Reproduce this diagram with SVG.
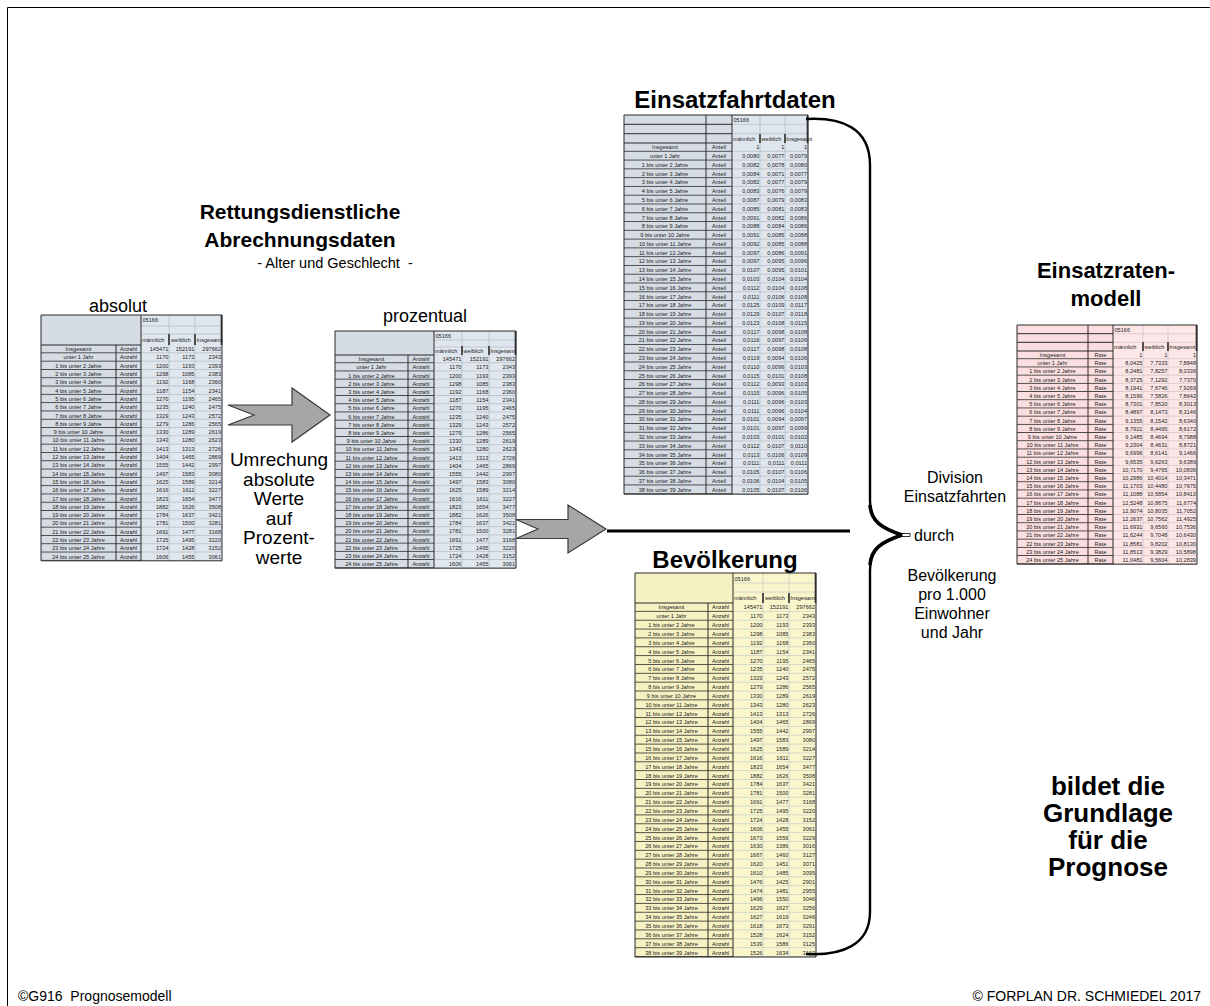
<svg xmlns="http://www.w3.org/2000/svg" width="1210" height="1006" viewBox="0 0 1210 1006">
<style>
text{font-family:"Liberation Sans",Arial,sans-serif;fill:#000}
.lb{font-size:5.6px;text-anchor:middle;fill:#222}
.nm{font-size:5.6px;text-anchor:end;fill:#222}
.hd{font-size:5.6px;fill:#222}
.ti{font-size:24px;font-weight:bold;text-anchor:middle}
.t2{font-size:21px;font-weight:bold;text-anchor:middle}
.t3{font-size:22px;font-weight:bold;text-anchor:middle}
.sb{font-size:14.5px;text-anchor:middle}
.cap{font-size:18px;text-anchor:middle}
.ex{font-size:19px;text-anchor:middle}
.dv{font-size:16px;text-anchor:middle}
.big{font-size:26px;font-weight:bold;text-anchor:middle}
.ft{font-size:14px}
.dk{stroke:#2b2b2b;stroke-width:1;fill:none}
.lt{stroke:#a9b3be;stroke-width:0.6;fill:none}
.bar{stroke:#2b2b2b;stroke-width:1.6;fill:none}
.arr{fill:#a6a6a6;stroke:#3a3a3a;stroke-width:1.2}
</style>
<defs>
<pattern id="dA" patternUnits="userSpaceOnUse" y="345" width="8" height="8.3"><rect y="7.5" width="8" height="0.8" fill="#2b2b2b"/></pattern>
<pattern id="lA" patternUnits="userSpaceOnUse" y="345" width="8" height="8.3"><rect y="7.7" width="8" height="0.6" fill="#a9b3be"/></pattern>
<pattern id="dP" patternUnits="userSpaceOnUse" y="355" width="8" height="8.2"><rect y="7.4" width="8" height="0.8" fill="#2b2b2b"/></pattern>
<pattern id="lP" patternUnits="userSpaceOnUse" y="355" width="8" height="8.2"><rect y="7.6" width="8" height="0.6" fill="#a9b3be"/></pattern>
<pattern id="dE" patternUnits="userSpaceOnUse" y="143" width="8" height="8.78"><rect y="7.98" width="8" height="0.8" fill="#2b2b2b"/></pattern>
<pattern id="lE" patternUnits="userSpaceOnUse" y="143" width="8" height="8.78"><rect y="8.18" width="8" height="0.6" fill="#a9b3be"/></pattern>
<pattern id="dB" patternUnits="userSpaceOnUse" y="603" width="8" height="8.85"><rect y="8.05" width="8" height="0.8" fill="#2b2b2b"/></pattern>
<pattern id="lB" patternUnits="userSpaceOnUse" y="603" width="8" height="8.85"><rect y="8.25" width="8" height="0.6" fill="#bcc3c9"/></pattern>
<pattern id="dR" patternUnits="userSpaceOnUse" y="351" width="8" height="8.2"><rect y="7.4" width="8" height="0.8" fill="#2b2b2b"/></pattern>
<pattern id="lR" patternUnits="userSpaceOnUse" y="351" width="8" height="8.2"><rect y="7.6" width="8" height="0.6" fill="#c9bcc4"/></pattern>
</defs>
<rect width="1210" height="1006" fill="#fff"/>
<path d="M7.5,1006V7.5H1210" fill="none" stroke="#000" stroke-width="1"/>

<g id="title-einsatzfahrtdaten"><text class="ti" x="735" y="108">Einsatzfahrtdaten</text></g>
<g id="title-rettungsdienst">
<text class="t2" x="300" y="219">Rettungsdienstliche</text>
<text class="t2" x="300" y="247">Abrechnungsdaten</text>
<text class="sb" x="335" y="268" xml:space="preserve">- Alter und Geschlecht  -</text>
</g>
<g id="label-absolut"><text class="cap" x="118" y="312">absolut</text></g>
<g id="label-prozentual"><text class="cap" x="425" y="322">prozentual</text></g>
<g id="title-bevoelkerung"><text class="ti" x="725" y="568">Bevölkerung</text></g>
<g id="title-einsatzraten"><text class="t3" x="1106" y="278">Einsatzraten-</text><text class="t3" x="1106" y="306">modell</text></g>

<g id="tab-absolut">
<rect x="41" y="315" width="181" height="245.8" fill="#e0e6ed"/>
<rect x="41" y="315" width="100" height="245.8" fill="#d5dce4"/>
<rect x="141" y="345" width="81" height="215.8" fill="url(#lA)"/>
<rect x="41" y="345" width="100" height="215.8" fill="url(#dA)"/>
<path class="lt" d="M169,315V560.8M195,315V560.8M141,326H222M141,334H222"/>
<path class="dk" d="M41,315H222V560.8H41ZM116,345V560.8M141,315V560.8M41,345H141"/>
<path class="bar" d="M169,334V345M195,334V345M221.5,315V345"/>
<text class="hd" x="142.5" y="322">05166</text>
<text class="hd" x="142" y="342">männlich</text>
<text class="hd" x="171" y="342">weiblich</text>
<text class="hd" x="196.5" y="342">Insgesamt</text>
<text class="lb" y="351.1"><tspan x="78.5">Insgesamt</tspan><tspan x="78.5" dy="8.3">unter 1 Jahr</tspan><tspan x="78.5" dy="8.3">1 bis unter 2 Jahre</tspan><tspan x="78.5" dy="8.3">2 bis unter 3 Jahre</tspan><tspan x="78.5" dy="8.3">3 bis unter 4 Jahre</tspan><tspan x="78.5" dy="8.3">4 bis unter 5 Jahre</tspan><tspan x="78.5" dy="8.3">5 bis unter 6 Jahre</tspan><tspan x="78.5" dy="8.3">6 bis unter 7 Jahre</tspan><tspan x="78.5" dy="8.3">7 bis unter 8 Jahre</tspan><tspan x="78.5" dy="8.3">8 bis unter 9 Jahre</tspan><tspan x="78.5" dy="8.3">9 bis unter 10 Jahre</tspan><tspan x="78.5" dy="8.3">10 bis unter 11 Jahre</tspan><tspan x="78.5" dy="8.3">11 bis unter 12 Jahre</tspan><tspan x="78.5" dy="8.3">12 bis unter 13 Jahre</tspan><tspan x="78.5" dy="8.3">13 bis unter 14 Jahre</tspan><tspan x="78.5" dy="8.3">14 bis unter 15 Jahre</tspan><tspan x="78.5" dy="8.3">15 bis unter 16 Jahre</tspan><tspan x="78.5" dy="8.3">16 bis unter 17 Jahre</tspan><tspan x="78.5" dy="8.3">17 bis unter 18 Jahre</tspan><tspan x="78.5" dy="8.3">18 bis unter 19 Jahre</tspan><tspan x="78.5" dy="8.3">19 bis unter 20 Jahre</tspan><tspan x="78.5" dy="8.3">20 bis unter 21 Jahre</tspan><tspan x="78.5" dy="8.3">21 bis unter 22 Jahre</tspan><tspan x="78.5" dy="8.3">22 bis unter 23 Jahre</tspan><tspan x="78.5" dy="8.3">23 bis unter 24 Jahre</tspan><tspan x="78.5" dy="8.3">24 bis unter 25 Jahre</tspan></text>
<text class="lb" y="351.1"><tspan x="128.5">Anzahl</tspan><tspan x="128.5" dy="8.3">Anzahl</tspan><tspan x="128.5" dy="8.3">Anzahl</tspan><tspan x="128.5" dy="8.3">Anzahl</tspan><tspan x="128.5" dy="8.3">Anzahl</tspan><tspan x="128.5" dy="8.3">Anzahl</tspan><tspan x="128.5" dy="8.3">Anzahl</tspan><tspan x="128.5" dy="8.3">Anzahl</tspan><tspan x="128.5" dy="8.3">Anzahl</tspan><tspan x="128.5" dy="8.3">Anzahl</tspan><tspan x="128.5" dy="8.3">Anzahl</tspan><tspan x="128.5" dy="8.3">Anzahl</tspan><tspan x="128.5" dy="8.3">Anzahl</tspan><tspan x="128.5" dy="8.3">Anzahl</tspan><tspan x="128.5" dy="8.3">Anzahl</tspan><tspan x="128.5" dy="8.3">Anzahl</tspan><tspan x="128.5" dy="8.3">Anzahl</tspan><tspan x="128.5" dy="8.3">Anzahl</tspan><tspan x="128.5" dy="8.3">Anzahl</tspan><tspan x="128.5" dy="8.3">Anzahl</tspan><tspan x="128.5" dy="8.3">Anzahl</tspan><tspan x="128.5" dy="8.3">Anzahl</tspan><tspan x="128.5" dy="8.3">Anzahl</tspan><tspan x="128.5" dy="8.3">Anzahl</tspan><tspan x="128.5" dy="8.3">Anzahl</tspan><tspan x="128.5" dy="8.3">Anzahl</tspan></text>
<text class="nm" y="351.1"><tspan x="168.4">145471</tspan><tspan x="168.4" dy="8.3">1170</tspan><tspan x="168.4" dy="8.3">1200</tspan><tspan x="168.4" dy="8.3">1298</tspan><tspan x="168.4" dy="8.3">1192</tspan><tspan x="168.4" dy="8.3">1187</tspan><tspan x="168.4" dy="8.3">1270</tspan><tspan x="168.4" dy="8.3">1235</tspan><tspan x="168.4" dy="8.3">1329</tspan><tspan x="168.4" dy="8.3">1279</tspan><tspan x="168.4" dy="8.3">1330</tspan><tspan x="168.4" dy="8.3">1343</tspan><tspan x="168.4" dy="8.3">1413</tspan><tspan x="168.4" dy="8.3">1404</tspan><tspan x="168.4" dy="8.3">1555</tspan><tspan x="168.4" dy="8.3">1497</tspan><tspan x="168.4" dy="8.3">1625</tspan><tspan x="168.4" dy="8.3">1616</tspan><tspan x="168.4" dy="8.3">1823</tspan><tspan x="168.4" dy="8.3">1882</tspan><tspan x="168.4" dy="8.3">1784</tspan><tspan x="168.4" dy="8.3">1781</tspan><tspan x="168.4" dy="8.3">1691</tspan><tspan x="168.4" dy="8.3">1725</tspan><tspan x="168.4" dy="8.3">1724</tspan><tspan x="168.4" dy="8.3">1606</tspan></text>
<text class="nm" y="351.1"><tspan x="194.4">152191</tspan><tspan x="194.4" dy="8.3">1173</tspan><tspan x="194.4" dy="8.3">1193</tspan><tspan x="194.4" dy="8.3">1085</tspan><tspan x="194.4" dy="8.3">1168</tspan><tspan x="194.4" dy="8.3">1154</tspan><tspan x="194.4" dy="8.3">1195</tspan><tspan x="194.4" dy="8.3">1240</tspan><tspan x="194.4" dy="8.3">1243</tspan><tspan x="194.4" dy="8.3">1286</tspan><tspan x="194.4" dy="8.3">1289</tspan><tspan x="194.4" dy="8.3">1280</tspan><tspan x="194.4" dy="8.3">1313</tspan><tspan x="194.4" dy="8.3">1465</tspan><tspan x="194.4" dy="8.3">1442</tspan><tspan x="194.4" dy="8.3">1583</tspan><tspan x="194.4" dy="8.3">1589</tspan><tspan x="194.4" dy="8.3">1611</tspan><tspan x="194.4" dy="8.3">1654</tspan><tspan x="194.4" dy="8.3">1626</tspan><tspan x="194.4" dy="8.3">1637</tspan><tspan x="194.4" dy="8.3">1500</tspan><tspan x="194.4" dy="8.3">1477</tspan><tspan x="194.4" dy="8.3">1495</tspan><tspan x="194.4" dy="8.3">1428</tspan><tspan x="194.4" dy="8.3">1455</tspan></text>
<text class="nm" y="351.1"><tspan x="221">297662</tspan><tspan x="221" dy="8.3">2343</tspan><tspan x="221" dy="8.3">2393</tspan><tspan x="221" dy="8.3">2383</tspan><tspan x="221" dy="8.3">2360</tspan><tspan x="221" dy="8.3">2341</tspan><tspan x="221" dy="8.3">2465</tspan><tspan x="221" dy="8.3">2475</tspan><tspan x="221" dy="8.3">2572</tspan><tspan x="221" dy="8.3">2565</tspan><tspan x="221" dy="8.3">2619</tspan><tspan x="221" dy="8.3">2623</tspan><tspan x="221" dy="8.3">2726</tspan><tspan x="221" dy="8.3">2869</tspan><tspan x="221" dy="8.3">2997</tspan><tspan x="221" dy="8.3">3080</tspan><tspan x="221" dy="8.3">3214</tspan><tspan x="221" dy="8.3">3227</tspan><tspan x="221" dy="8.3">3477</tspan><tspan x="221" dy="8.3">3508</tspan><tspan x="221" dy="8.3">3421</tspan><tspan x="221" dy="8.3">3281</tspan><tspan x="221" dy="8.3">3168</tspan><tspan x="221" dy="8.3">3220</tspan><tspan x="221" dy="8.3">3152</tspan><tspan x="221" dy="8.3">3061</tspan></text>
</g>

<g id="tab-prozentual">
<rect x="335" y="331" width="181" height="237.2" fill="#e0e6ed"/>
<rect x="335" y="331" width="99" height="237.2" fill="#d5dce4"/>
<rect x="434" y="355" width="82" height="213.2" fill="url(#lP)"/>
<rect x="335" y="355" width="99" height="213.2" fill="url(#dP)"/>
<path class="lt" d="M462,331V568.2M489,331V568.2M434,340H516M434,347H516"/>
<path class="dk" d="M335,331H516V568.2H335ZM408,355V568.2M434,331V568.2M335,355H434"/>
<path class="bar" d="M462,346V355M489,346V355M515.5,331V355"/>
<text class="hd" x="435.5" y="337.5">05166</text>
<text class="hd" x="435" y="352.5">männlich</text>
<text class="hd" x="463.5" y="352.5">weiblich</text>
<text class="hd" x="490.3" y="352.5">Insgesamt</text>
<text class="lb" y="361.1"><tspan x="371.5">Insgesamt</tspan><tspan x="371.5" dy="8.2">unter 1 Jahr</tspan><tspan x="371.5" dy="8.2">1 bis unter 2 Jahre</tspan><tspan x="371.5" dy="8.2">2 bis unter 3 Jahre</tspan><tspan x="371.5" dy="8.2">3 bis unter 4 Jahre</tspan><tspan x="371.5" dy="8.2">4 bis unter 5 Jahre</tspan><tspan x="371.5" dy="8.2">5 bis unter 6 Jahre</tspan><tspan x="371.5" dy="8.2">6 bis unter 7 Jahre</tspan><tspan x="371.5" dy="8.2">7 bis unter 8 Jahre</tspan><tspan x="371.5" dy="8.2">8 bis unter 9 Jahre</tspan><tspan x="371.5" dy="8.2">9 bis unter 10 Jahre</tspan><tspan x="371.5" dy="8.2">10 bis unter 11 Jahre</tspan><tspan x="371.5" dy="8.2">11 bis unter 12 Jahre</tspan><tspan x="371.5" dy="8.2">12 bis unter 13 Jahre</tspan><tspan x="371.5" dy="8.2">13 bis unter 14 Jahre</tspan><tspan x="371.5" dy="8.2">14 bis unter 15 Jahre</tspan><tspan x="371.5" dy="8.2">15 bis unter 16 Jahre</tspan><tspan x="371.5" dy="8.2">16 bis unter 17 Jahre</tspan><tspan x="371.5" dy="8.2">17 bis unter 18 Jahre</tspan><tspan x="371.5" dy="8.2">18 bis unter 19 Jahre</tspan><tspan x="371.5" dy="8.2">19 bis unter 20 Jahre</tspan><tspan x="371.5" dy="8.2">20 bis unter 21 Jahre</tspan><tspan x="371.5" dy="8.2">21 bis unter 22 Jahre</tspan><tspan x="371.5" dy="8.2">22 bis unter 23 Jahre</tspan><tspan x="371.5" dy="8.2">23 bis unter 24 Jahre</tspan><tspan x="371.5" dy="8.2">24 bis unter 25 Jahre</tspan></text>
<text class="lb" y="361.1"><tspan x="421">Anzahl</tspan><tspan x="421" dy="8.2">Anzahl</tspan><tspan x="421" dy="8.2">Anzahl</tspan><tspan x="421" dy="8.2">Anzahl</tspan><tspan x="421" dy="8.2">Anzahl</tspan><tspan x="421" dy="8.2">Anzahl</tspan><tspan x="421" dy="8.2">Anzahl</tspan><tspan x="421" dy="8.2">Anzahl</tspan><tspan x="421" dy="8.2">Anzahl</tspan><tspan x="421" dy="8.2">Anzahl</tspan><tspan x="421" dy="8.2">Anzahl</tspan><tspan x="421" dy="8.2">Anzahl</tspan><tspan x="421" dy="8.2">Anzahl</tspan><tspan x="421" dy="8.2">Anzahl</tspan><tspan x="421" dy="8.2">Anzahl</tspan><tspan x="421" dy="8.2">Anzahl</tspan><tspan x="421" dy="8.2">Anzahl</tspan><tspan x="421" dy="8.2">Anzahl</tspan><tspan x="421" dy="8.2">Anzahl</tspan><tspan x="421" dy="8.2">Anzahl</tspan><tspan x="421" dy="8.2">Anzahl</tspan><tspan x="421" dy="8.2">Anzahl</tspan><tspan x="421" dy="8.2">Anzahl</tspan><tspan x="421" dy="8.2">Anzahl</tspan><tspan x="421" dy="8.2">Anzahl</tspan><tspan x="421" dy="8.2">Anzahl</tspan></text>
<text class="nm" y="361.1"><tspan x="461.4">145471</tspan><tspan x="461.4" dy="8.2">1170</tspan><tspan x="461.4" dy="8.2">1200</tspan><tspan x="461.4" dy="8.2">1298</tspan><tspan x="461.4" dy="8.2">1192</tspan><tspan x="461.4" dy="8.2">1187</tspan><tspan x="461.4" dy="8.2">1270</tspan><tspan x="461.4" dy="8.2">1235</tspan><tspan x="461.4" dy="8.2">1329</tspan><tspan x="461.4" dy="8.2">1279</tspan><tspan x="461.4" dy="8.2">1330</tspan><tspan x="461.4" dy="8.2">1343</tspan><tspan x="461.4" dy="8.2">1413</tspan><tspan x="461.4" dy="8.2">1404</tspan><tspan x="461.4" dy="8.2">1555</tspan><tspan x="461.4" dy="8.2">1497</tspan><tspan x="461.4" dy="8.2">1625</tspan><tspan x="461.4" dy="8.2">1616</tspan><tspan x="461.4" dy="8.2">1823</tspan><tspan x="461.4" dy="8.2">1882</tspan><tspan x="461.4" dy="8.2">1784</tspan><tspan x="461.4" dy="8.2">1781</tspan><tspan x="461.4" dy="8.2">1691</tspan><tspan x="461.4" dy="8.2">1725</tspan><tspan x="461.4" dy="8.2">1724</tspan><tspan x="461.4" dy="8.2">1606</tspan></text>
<text class="nm" y="361.1"><tspan x="488.4">152191</tspan><tspan x="488.4" dy="8.2">1173</tspan><tspan x="488.4" dy="8.2">1193</tspan><tspan x="488.4" dy="8.2">1085</tspan><tspan x="488.4" dy="8.2">1168</tspan><tspan x="488.4" dy="8.2">1154</tspan><tspan x="488.4" dy="8.2">1195</tspan><tspan x="488.4" dy="8.2">1240</tspan><tspan x="488.4" dy="8.2">1243</tspan><tspan x="488.4" dy="8.2">1286</tspan><tspan x="488.4" dy="8.2">1289</tspan><tspan x="488.4" dy="8.2">1280</tspan><tspan x="488.4" dy="8.2">1313</tspan><tspan x="488.4" dy="8.2">1465</tspan><tspan x="488.4" dy="8.2">1442</tspan><tspan x="488.4" dy="8.2">1583</tspan><tspan x="488.4" dy="8.2">1589</tspan><tspan x="488.4" dy="8.2">1611</tspan><tspan x="488.4" dy="8.2">1654</tspan><tspan x="488.4" dy="8.2">1626</tspan><tspan x="488.4" dy="8.2">1637</tspan><tspan x="488.4" dy="8.2">1500</tspan><tspan x="488.4" dy="8.2">1477</tspan><tspan x="488.4" dy="8.2">1495</tspan><tspan x="488.4" dy="8.2">1428</tspan><tspan x="488.4" dy="8.2">1455</tspan></text>
<text class="nm" y="361.1"><tspan x="515">297662</tspan><tspan x="515" dy="8.2">2343</tspan><tspan x="515" dy="8.2">2393</tspan><tspan x="515" dy="8.2">2383</tspan><tspan x="515" dy="8.2">2360</tspan><tspan x="515" dy="8.2">2341</tspan><tspan x="515" dy="8.2">2465</tspan><tspan x="515" dy="8.2">2475</tspan><tspan x="515" dy="8.2">2572</tspan><tspan x="515" dy="8.2">2565</tspan><tspan x="515" dy="8.2">2619</tspan><tspan x="515" dy="8.2">2623</tspan><tspan x="515" dy="8.2">2726</tspan><tspan x="515" dy="8.2">2869</tspan><tspan x="515" dy="8.2">2997</tspan><tspan x="515" dy="8.2">3080</tspan><tspan x="515" dy="8.2">3214</tspan><tspan x="515" dy="8.2">3227</tspan><tspan x="515" dy="8.2">3477</tspan><tspan x="515" dy="8.2">3508</tspan><tspan x="515" dy="8.2">3421</tspan><tspan x="515" dy="8.2">3281</tspan><tspan x="515" dy="8.2">3168</tspan><tspan x="515" dy="8.2">3220</tspan><tspan x="515" dy="8.2">3152</tspan><tspan x="515" dy="8.2">3061</tspan></text>
</g>

<g id="tab-einsatzfahrtdaten">
<rect x="624" y="115" width="184" height="379.2" fill="#dfe5ec"/>
<rect x="624" y="115" width="108" height="379.2" fill="#d5dce4"/>
<rect x="732" y="143" width="76" height="351.2" fill="url(#lE)"/>
<rect x="624" y="143" width="108" height="351.2" fill="url(#dE)"/>
<path class="lt" d="M760,115V494.2M785,115V494.2M732,124.3H808M732,133.7H808"/>
<path class="dk" d="M624,115H808V494.2H624ZM706,115V494.2M732,115V494.2M624,124.3H732M624,133.7H732M624,143H732"/>
<path class="bar" d="M760,134V143M785,134V143M807.5,115V143"/>
<text class="hd" x="733.5" y="122">05166</text>
<text class="hd" x="733" y="140.5">männlich</text>
<text class="hd" x="761.5" y="140.5">weiblich</text>
<text class="hd" x="786.3" y="140.5">Insgesamt</text>
<text class="lb" y="149.3"><tspan x="665">Insgesamt</tspan><tspan x="665" dy="8.78">unter 1 Jahr</tspan><tspan x="665" dy="8.78">1 bis unter 2 Jahre</tspan><tspan x="665" dy="8.78">2 bis unter 3 Jahre</tspan><tspan x="665" dy="8.78">3 bis unter 4 Jahre</tspan><tspan x="665" dy="8.78">4 bis unter 5 Jahre</tspan><tspan x="665" dy="8.78">5 bis unter 6 Jahre</tspan><tspan x="665" dy="8.78">6 bis unter 7 Jahre</tspan><tspan x="665" dy="8.78">7 bis unter 8 Jahre</tspan><tspan x="665" dy="8.78">8 bis unter 9 Jahre</tspan><tspan x="665" dy="8.78">9 bis unter 10 Jahre</tspan><tspan x="665" dy="8.78">10 bis unter 11 Jahre</tspan><tspan x="665" dy="8.78">11 bis unter 12 Jahre</tspan><tspan x="665" dy="8.78">12 bis unter 13 Jahre</tspan><tspan x="665" dy="8.78">13 bis unter 14 Jahre</tspan><tspan x="665" dy="8.78">14 bis unter 15 Jahre</tspan><tspan x="665" dy="8.78">15 bis unter 16 Jahre</tspan><tspan x="665" dy="8.78">16 bis unter 17 Jahre</tspan><tspan x="665" dy="8.78">17 bis unter 18 Jahre</tspan><tspan x="665" dy="8.78">18 bis unter 19 Jahre</tspan><tspan x="665" dy="8.78">19 bis unter 20 Jahre</tspan><tspan x="665" dy="8.78">20 bis unter 21 Jahre</tspan><tspan x="665" dy="8.78">21 bis unter 22 Jahre</tspan><tspan x="665" dy="8.78">22 bis unter 23 Jahre</tspan><tspan x="665" dy="8.78">23 bis unter 24 Jahre</tspan><tspan x="665" dy="8.78">24 bis unter 25 Jahre</tspan><tspan x="665" dy="8.78">25 bis unter 26 Jahre</tspan><tspan x="665" dy="8.78">26 bis unter 27 Jahre</tspan><tspan x="665" dy="8.78">27 bis unter 28 Jahre</tspan><tspan x="665" dy="8.78">28 bis unter 29 Jahre</tspan><tspan x="665" dy="8.78">29 bis unter 30 Jahre</tspan><tspan x="665" dy="8.78">30 bis unter 31 Jahre</tspan><tspan x="665" dy="8.78">31 bis unter 32 Jahre</tspan><tspan x="665" dy="8.78">32 bis unter 33 Jahre</tspan><tspan x="665" dy="8.78">33 bis unter 34 Jahre</tspan><tspan x="665" dy="8.78">34 bis unter 35 Jahre</tspan><tspan x="665" dy="8.78">35 bis unter 36 Jahre</tspan><tspan x="665" dy="8.78">36 bis unter 37 Jahre</tspan><tspan x="665" dy="8.78">37 bis unter 38 Jahre</tspan><tspan x="665" dy="8.78">38 bis unter 39 Jahre</tspan></text>
<text class="lb" y="149.3"><tspan x="719">Anteil</tspan><tspan x="719" dy="8.78">Anteil</tspan><tspan x="719" dy="8.78">Anteil</tspan><tspan x="719" dy="8.78">Anteil</tspan><tspan x="719" dy="8.78">Anteil</tspan><tspan x="719" dy="8.78">Anteil</tspan><tspan x="719" dy="8.78">Anteil</tspan><tspan x="719" dy="8.78">Anteil</tspan><tspan x="719" dy="8.78">Anteil</tspan><tspan x="719" dy="8.78">Anteil</tspan><tspan x="719" dy="8.78">Anteil</tspan><tspan x="719" dy="8.78">Anteil</tspan><tspan x="719" dy="8.78">Anteil</tspan><tspan x="719" dy="8.78">Anteil</tspan><tspan x="719" dy="8.78">Anteil</tspan><tspan x="719" dy="8.78">Anteil</tspan><tspan x="719" dy="8.78">Anteil</tspan><tspan x="719" dy="8.78">Anteil</tspan><tspan x="719" dy="8.78">Anteil</tspan><tspan x="719" dy="8.78">Anteil</tspan><tspan x="719" dy="8.78">Anteil</tspan><tspan x="719" dy="8.78">Anteil</tspan><tspan x="719" dy="8.78">Anteil</tspan><tspan x="719" dy="8.78">Anteil</tspan><tspan x="719" dy="8.78">Anteil</tspan><tspan x="719" dy="8.78">Anteil</tspan><tspan x="719" dy="8.78">Anteil</tspan><tspan x="719" dy="8.78">Anteil</tspan><tspan x="719" dy="8.78">Anteil</tspan><tspan x="719" dy="8.78">Anteil</tspan><tspan x="719" dy="8.78">Anteil</tspan><tspan x="719" dy="8.78">Anteil</tspan><tspan x="719" dy="8.78">Anteil</tspan><tspan x="719" dy="8.78">Anteil</tspan><tspan x="719" dy="8.78">Anteil</tspan><tspan x="719" dy="8.78">Anteil</tspan><tspan x="719" dy="8.78">Anteil</tspan><tspan x="719" dy="8.78">Anteil</tspan><tspan x="719" dy="8.78">Anteil</tspan><tspan x="719" dy="8.78">Anteil</tspan></text>
<text class="nm" y="149.3"><tspan x="759.4">1</tspan><tspan x="759.4" dy="8.78">0,0080</tspan><tspan x="759.4" dy="8.78">0,0082</tspan><tspan x="759.4" dy="8.78">0,0084</tspan><tspan x="759.4" dy="8.78">0,0082</tspan><tspan x="759.4" dy="8.78">0,0083</tspan><tspan x="759.4" dy="8.78">0,0087</tspan><tspan x="759.4" dy="8.78">0,0085</tspan><tspan x="759.4" dy="8.78">0,0091</tspan><tspan x="759.4" dy="8.78">0,0088</tspan><tspan x="759.4" dy="8.78">0,0091</tspan><tspan x="759.4" dy="8.78">0,0092</tspan><tspan x="759.4" dy="8.78">0,0097</tspan><tspan x="759.4" dy="8.78">0,0097</tspan><tspan x="759.4" dy="8.78">0,0107</tspan><tspan x="759.4" dy="8.78">0,0103</tspan><tspan x="759.4" dy="8.78">0,0112</tspan><tspan x="759.4" dy="8.78">0,0111</tspan><tspan x="759.4" dy="8.78">0,0125</tspan><tspan x="759.4" dy="8.78">0,0129</tspan><tspan x="759.4" dy="8.78">0,0123</tspan><tspan x="759.4" dy="8.78">0,0117</tspan><tspan x="759.4" dy="8.78">0,0116</tspan><tspan x="759.4" dy="8.78">0,0117</tspan><tspan x="759.4" dy="8.78">0,0119</tspan><tspan x="759.4" dy="8.78">0,0110</tspan><tspan x="759.4" dy="8.78">0,0115</tspan><tspan x="759.4" dy="8.78">0,0112</tspan><tspan x="759.4" dy="8.78">0,0115</tspan><tspan x="759.4" dy="8.78">0,0111</tspan><tspan x="759.4" dy="8.78">0,0111</tspan><tspan x="759.4" dy="8.78">0,0101</tspan><tspan x="759.4" dy="8.78">0,0101</tspan><tspan x="759.4" dy="8.78">0,0103</tspan><tspan x="759.4" dy="8.78">0,0112</tspan><tspan x="759.4" dy="8.78">0,0113</tspan><tspan x="759.4" dy="8.78">0,0111</tspan><tspan x="759.4" dy="8.78">0,0105</tspan><tspan x="759.4" dy="8.78">0,0106</tspan><tspan x="759.4" dy="8.78">0,0105</tspan></text>
<text class="nm" y="149.3"><tspan x="784.4">1</tspan><tspan x="784.4" dy="8.78">0,0077</tspan><tspan x="784.4" dy="8.78">0,0078</tspan><tspan x="784.4" dy="8.78">0,0071</tspan><tspan x="784.4" dy="8.78">0,0077</tspan><tspan x="784.4" dy="8.78">0,0076</tspan><tspan x="784.4" dy="8.78">0,0079</tspan><tspan x="784.4" dy="8.78">0,0081</tspan><tspan x="784.4" dy="8.78">0,0082</tspan><tspan x="784.4" dy="8.78">0,0084</tspan><tspan x="784.4" dy="8.78">0,0085</tspan><tspan x="784.4" dy="8.78">0,0085</tspan><tspan x="784.4" dy="8.78">0,0086</tspan><tspan x="784.4" dy="8.78">0,0095</tspan><tspan x="784.4" dy="8.78">0,0095</tspan><tspan x="784.4" dy="8.78">0,0104</tspan><tspan x="784.4" dy="8.78">0,0104</tspan><tspan x="784.4" dy="8.78">0,0106</tspan><tspan x="784.4" dy="8.78">0,0109</tspan><tspan x="784.4" dy="8.78">0,0107</tspan><tspan x="784.4" dy="8.78">0,0108</tspan><tspan x="784.4" dy="8.78">0,0098</tspan><tspan x="784.4" dy="8.78">0,0097</tspan><tspan x="784.4" dy="8.78">0,0098</tspan><tspan x="784.4" dy="8.78">0,0094</tspan><tspan x="784.4" dy="8.78">0,0096</tspan><tspan x="784.4" dy="8.78">0,0101</tspan><tspan x="784.4" dy="8.78">0,0093</tspan><tspan x="784.4" dy="8.78">0,0096</tspan><tspan x="784.4" dy="8.78">0,0096</tspan><tspan x="784.4" dy="8.78">0,0096</tspan><tspan x="784.4" dy="8.78">0,0094</tspan><tspan x="784.4" dy="8.78">0,0097</tspan><tspan x="784.4" dy="8.78">0,0101</tspan><tspan x="784.4" dy="8.78">0,0107</tspan><tspan x="784.4" dy="8.78">0,0106</tspan><tspan x="784.4" dy="8.78">0,0111</tspan><tspan x="784.4" dy="8.78">0,0107</tspan><tspan x="784.4" dy="8.78">0,0104</tspan><tspan x="784.4" dy="8.78">0,0107</tspan></text>
<text class="nm" y="149.3"><tspan x="807">1</tspan><tspan x="807" dy="8.78">0,0079</tspan><tspan x="807" dy="8.78">0,0080</tspan><tspan x="807" dy="8.78">0,0077</tspan><tspan x="807" dy="8.78">0,0079</tspan><tspan x="807" dy="8.78">0,0079</tspan><tspan x="807" dy="8.78">0,0083</tspan><tspan x="807" dy="8.78">0,0083</tspan><tspan x="807" dy="8.78">0,0086</tspan><tspan x="807" dy="8.78">0,0086</tspan><tspan x="807" dy="8.78">0,0088</tspan><tspan x="807" dy="8.78">0,0088</tspan><tspan x="807" dy="8.78">0,0091</tspan><tspan x="807" dy="8.78">0,0096</tspan><tspan x="807" dy="8.78">0,0101</tspan><tspan x="807" dy="8.78">0,0104</tspan><tspan x="807" dy="8.78">0,0108</tspan><tspan x="807" dy="8.78">0,0108</tspan><tspan x="807" dy="8.78">0,0117</tspan><tspan x="807" dy="8.78">0,0118</tspan><tspan x="807" dy="8.78">0,0115</tspan><tspan x="807" dy="8.78">0,0108</tspan><tspan x="807" dy="8.78">0,0106</tspan><tspan x="807" dy="8.78">0,0108</tspan><tspan x="807" dy="8.78">0,0106</tspan><tspan x="807" dy="8.78">0,0103</tspan><tspan x="807" dy="8.78">0,0108</tspan><tspan x="807" dy="8.78">0,0103</tspan><tspan x="807" dy="8.78">0,0105</tspan><tspan x="807" dy="8.78">0,0103</tspan><tspan x="807" dy="8.78">0,0104</tspan><tspan x="807" dy="8.78">0,0097</tspan><tspan x="807" dy="8.78">0,0099</tspan><tspan x="807" dy="8.78">0,0102</tspan><tspan x="807" dy="8.78">0,0110</tspan><tspan x="807" dy="8.78">0,0109</tspan><tspan x="807" dy="8.78">0,0111</tspan><tspan x="807" dy="8.78">0,0106</tspan><tspan x="807" dy="8.78">0,0105</tspan><tspan x="807" dy="8.78">0,0106</tspan></text>
</g>

<g id="tab-bevoelkerung">
<rect x="635" y="573" width="181" height="384" fill="#faf6cc"/>
<rect x="635" y="573" width="98" height="384" fill="#f6f1c2"/>
<rect x="733" y="603" width="83" height="354" fill="url(#lB)"/>
<rect x="635" y="603" width="98" height="354" fill="url(#dB)"/>
<path class="lt" style="stroke:#bcc3c9" d="M763,573V957M789,573V957M733,583H816M733,592H816"/>
<path class="dk" d="M635,573H816V957H635ZM708,603V957M733,573V957M635,603H733"/>
<path class="bar" d="M763,593V603M789,593V603M815.5,573V603"/>
<text class="hd" x="734.5" y="580.5">05166</text>
<text class="hd" x="734" y="600">männlich</text>
<text class="hd" x="765" y="600">weiblich</text>
<text class="hd" x="790.3" y="600">Insgesamt</text>
<text class="lb" y="609.4"><tspan x="671.5">Insgesamt</tspan><tspan x="671.5" dy="8.85">unter 1 Jahr</tspan><tspan x="671.5" dy="8.85">1 bis unter 2 Jahre</tspan><tspan x="671.5" dy="8.85">2 bis unter 3 Jahre</tspan><tspan x="671.5" dy="8.85">3 bis unter 4 Jahre</tspan><tspan x="671.5" dy="8.85">4 bis unter 5 Jahre</tspan><tspan x="671.5" dy="8.85">5 bis unter 6 Jahre</tspan><tspan x="671.5" dy="8.85">6 bis unter 7 Jahre</tspan><tspan x="671.5" dy="8.85">7 bis unter 8 Jahre</tspan><tspan x="671.5" dy="8.85">8 bis unter 9 Jahre</tspan><tspan x="671.5" dy="8.85">9 bis unter 10 Jahre</tspan><tspan x="671.5" dy="8.85">10 bis unter 11 Jahre</tspan><tspan x="671.5" dy="8.85">11 bis unter 12 Jahre</tspan><tspan x="671.5" dy="8.85">12 bis unter 13 Jahre</tspan><tspan x="671.5" dy="8.85">13 bis unter 14 Jahre</tspan><tspan x="671.5" dy="8.85">14 bis unter 15 Jahre</tspan><tspan x="671.5" dy="8.85">15 bis unter 16 Jahre</tspan><tspan x="671.5" dy="8.85">16 bis unter 17 Jahre</tspan><tspan x="671.5" dy="8.85">17 bis unter 18 Jahre</tspan><tspan x="671.5" dy="8.85">18 bis unter 19 Jahre</tspan><tspan x="671.5" dy="8.85">19 bis unter 20 Jahre</tspan><tspan x="671.5" dy="8.85">20 bis unter 21 Jahre</tspan><tspan x="671.5" dy="8.85">21 bis unter 22 Jahre</tspan><tspan x="671.5" dy="8.85">22 bis unter 23 Jahre</tspan><tspan x="671.5" dy="8.85">23 bis unter 24 Jahre</tspan><tspan x="671.5" dy="8.85">24 bis unter 25 Jahre</tspan><tspan x="671.5" dy="8.85">25 bis unter 26 Jahre</tspan><tspan x="671.5" dy="8.85">26 bis unter 27 Jahre</tspan><tspan x="671.5" dy="8.85">27 bis unter 28 Jahre</tspan><tspan x="671.5" dy="8.85">28 bis unter 29 Jahre</tspan><tspan x="671.5" dy="8.85">29 bis unter 30 Jahre</tspan><tspan x="671.5" dy="8.85">30 bis unter 31 Jahre</tspan><tspan x="671.5" dy="8.85">31 bis unter 32 Jahre</tspan><tspan x="671.5" dy="8.85">32 bis unter 33 Jahre</tspan><tspan x="671.5" dy="8.85">33 bis unter 34 Jahre</tspan><tspan x="671.5" dy="8.85">34 bis unter 35 Jahre</tspan><tspan x="671.5" dy="8.85">35 bis unter 36 Jahre</tspan><tspan x="671.5" dy="8.85">36 bis unter 37 Jahre</tspan><tspan x="671.5" dy="8.85">37 bis unter 38 Jahre</tspan><tspan x="671.5" dy="8.85">38 bis unter 39 Jahre</tspan></text>
<text class="lb" y="609.4"><tspan x="720.5">Anzahl</tspan><tspan x="720.5" dy="8.85">Anzahl</tspan><tspan x="720.5" dy="8.85">Anzahl</tspan><tspan x="720.5" dy="8.85">Anzahl</tspan><tspan x="720.5" dy="8.85">Anzahl</tspan><tspan x="720.5" dy="8.85">Anzahl</tspan><tspan x="720.5" dy="8.85">Anzahl</tspan><tspan x="720.5" dy="8.85">Anzahl</tspan><tspan x="720.5" dy="8.85">Anzahl</tspan><tspan x="720.5" dy="8.85">Anzahl</tspan><tspan x="720.5" dy="8.85">Anzahl</tspan><tspan x="720.5" dy="8.85">Anzahl</tspan><tspan x="720.5" dy="8.85">Anzahl</tspan><tspan x="720.5" dy="8.85">Anzahl</tspan><tspan x="720.5" dy="8.85">Anzahl</tspan><tspan x="720.5" dy="8.85">Anzahl</tspan><tspan x="720.5" dy="8.85">Anzahl</tspan><tspan x="720.5" dy="8.85">Anzahl</tspan><tspan x="720.5" dy="8.85">Anzahl</tspan><tspan x="720.5" dy="8.85">Anzahl</tspan><tspan x="720.5" dy="8.85">Anzahl</tspan><tspan x="720.5" dy="8.85">Anzahl</tspan><tspan x="720.5" dy="8.85">Anzahl</tspan><tspan x="720.5" dy="8.85">Anzahl</tspan><tspan x="720.5" dy="8.85">Anzahl</tspan><tspan x="720.5" dy="8.85">Anzahl</tspan><tspan x="720.5" dy="8.85">Anzahl</tspan><tspan x="720.5" dy="8.85">Anzahl</tspan><tspan x="720.5" dy="8.85">Anzahl</tspan><tspan x="720.5" dy="8.85">Anzahl</tspan><tspan x="720.5" dy="8.85">Anzahl</tspan><tspan x="720.5" dy="8.85">Anzahl</tspan><tspan x="720.5" dy="8.85">Anzahl</tspan><tspan x="720.5" dy="8.85">Anzahl</tspan><tspan x="720.5" dy="8.85">Anzahl</tspan><tspan x="720.5" dy="8.85">Anzahl</tspan><tspan x="720.5" dy="8.85">Anzahl</tspan><tspan x="720.5" dy="8.85">Anzahl</tspan><tspan x="720.5" dy="8.85">Anzahl</tspan><tspan x="720.5" dy="8.85">Anzahl</tspan></text>
<text class="nm" y="609.4"><tspan x="762.4">145471</tspan><tspan x="762.4" dy="8.85">1170</tspan><tspan x="762.4" dy="8.85">1200</tspan><tspan x="762.4" dy="8.85">1298</tspan><tspan x="762.4" dy="8.85">1192</tspan><tspan x="762.4" dy="8.85">1187</tspan><tspan x="762.4" dy="8.85">1270</tspan><tspan x="762.4" dy="8.85">1235</tspan><tspan x="762.4" dy="8.85">1329</tspan><tspan x="762.4" dy="8.85">1279</tspan><tspan x="762.4" dy="8.85">1330</tspan><tspan x="762.4" dy="8.85">1343</tspan><tspan x="762.4" dy="8.85">1413</tspan><tspan x="762.4" dy="8.85">1404</tspan><tspan x="762.4" dy="8.85">1555</tspan><tspan x="762.4" dy="8.85">1497</tspan><tspan x="762.4" dy="8.85">1625</tspan><tspan x="762.4" dy="8.85">1616</tspan><tspan x="762.4" dy="8.85">1823</tspan><tspan x="762.4" dy="8.85">1882</tspan><tspan x="762.4" dy="8.85">1784</tspan><tspan x="762.4" dy="8.85">1781</tspan><tspan x="762.4" dy="8.85">1691</tspan><tspan x="762.4" dy="8.85">1725</tspan><tspan x="762.4" dy="8.85">1724</tspan><tspan x="762.4" dy="8.85">1606</tspan><tspan x="762.4" dy="8.85">1673</tspan><tspan x="762.4" dy="8.85">1630</tspan><tspan x="762.4" dy="8.85">1667</tspan><tspan x="762.4" dy="8.85">1620</tspan><tspan x="762.4" dy="8.85">1610</tspan><tspan x="762.4" dy="8.85">1476</tspan><tspan x="762.4" dy="8.85">1474</tspan><tspan x="762.4" dy="8.85">1496</tspan><tspan x="762.4" dy="8.85">1629</tspan><tspan x="762.4" dy="8.85">1627</tspan><tspan x="762.4" dy="8.85">1618</tspan><tspan x="762.4" dy="8.85">1528</tspan><tspan x="762.4" dy="8.85">1539</tspan><tspan x="762.4" dy="8.85">1526</tspan></text>
<text class="nm" y="609.4"><tspan x="788.4">152191</tspan><tspan x="788.4" dy="8.85">1173</tspan><tspan x="788.4" dy="8.85">1193</tspan><tspan x="788.4" dy="8.85">1085</tspan><tspan x="788.4" dy="8.85">1168</tspan><tspan x="788.4" dy="8.85">1154</tspan><tspan x="788.4" dy="8.85">1195</tspan><tspan x="788.4" dy="8.85">1240</tspan><tspan x="788.4" dy="8.85">1243</tspan><tspan x="788.4" dy="8.85">1286</tspan><tspan x="788.4" dy="8.85">1289</tspan><tspan x="788.4" dy="8.85">1280</tspan><tspan x="788.4" dy="8.85">1313</tspan><tspan x="788.4" dy="8.85">1465</tspan><tspan x="788.4" dy="8.85">1442</tspan><tspan x="788.4" dy="8.85">1583</tspan><tspan x="788.4" dy="8.85">1589</tspan><tspan x="788.4" dy="8.85">1611</tspan><tspan x="788.4" dy="8.85">1654</tspan><tspan x="788.4" dy="8.85">1626</tspan><tspan x="788.4" dy="8.85">1637</tspan><tspan x="788.4" dy="8.85">1500</tspan><tspan x="788.4" dy="8.85">1477</tspan><tspan x="788.4" dy="8.85">1495</tspan><tspan x="788.4" dy="8.85">1428</tspan><tspan x="788.4" dy="8.85">1455</tspan><tspan x="788.4" dy="8.85">1556</tspan><tspan x="788.4" dy="8.85">1386</tspan><tspan x="788.4" dy="8.85">1460</tspan><tspan x="788.4" dy="8.85">1451</tspan><tspan x="788.4" dy="8.85">1485</tspan><tspan x="788.4" dy="8.85">1425</tspan><tspan x="788.4" dy="8.85">1481</tspan><tspan x="788.4" dy="8.85">1550</tspan><tspan x="788.4" dy="8.85">1627</tspan><tspan x="788.4" dy="8.85">1619</tspan><tspan x="788.4" dy="8.85">1673</tspan><tspan x="788.4" dy="8.85">1624</tspan><tspan x="788.4" dy="8.85">1586</tspan><tspan x="788.4" dy="8.85">1634</tspan></text>
<text class="nm" y="609.4"><tspan x="815">297662</tspan><tspan x="815" dy="8.85">2343</tspan><tspan x="815" dy="8.85">2393</tspan><tspan x="815" dy="8.85">2383</tspan><tspan x="815" dy="8.85">2360</tspan><tspan x="815" dy="8.85">2341</tspan><tspan x="815" dy="8.85">2465</tspan><tspan x="815" dy="8.85">2475</tspan><tspan x="815" dy="8.85">2572</tspan><tspan x="815" dy="8.85">2565</tspan><tspan x="815" dy="8.85">2619</tspan><tspan x="815" dy="8.85">2623</tspan><tspan x="815" dy="8.85">2726</tspan><tspan x="815" dy="8.85">2869</tspan><tspan x="815" dy="8.85">2997</tspan><tspan x="815" dy="8.85">3080</tspan><tspan x="815" dy="8.85">3214</tspan><tspan x="815" dy="8.85">3227</tspan><tspan x="815" dy="8.85">3477</tspan><tspan x="815" dy="8.85">3508</tspan><tspan x="815" dy="8.85">3421</tspan><tspan x="815" dy="8.85">3281</tspan><tspan x="815" dy="8.85">3168</tspan><tspan x="815" dy="8.85">3220</tspan><tspan x="815" dy="8.85">3152</tspan><tspan x="815" dy="8.85">3061</tspan><tspan x="815" dy="8.85">3229</tspan><tspan x="815" dy="8.85">3016</tspan><tspan x="815" dy="8.85">3127</tspan><tspan x="815" dy="8.85">3071</tspan><tspan x="815" dy="8.85">3095</tspan><tspan x="815" dy="8.85">2901</tspan><tspan x="815" dy="8.85">2955</tspan><tspan x="815" dy="8.85">3046</tspan><tspan x="815" dy="8.85">3256</tspan><tspan x="815" dy="8.85">3246</tspan><tspan x="815" dy="8.85">3291</tspan><tspan x="815" dy="8.85">3152</tspan><tspan x="815" dy="8.85">3125</tspan><tspan x="815" dy="8.85">3160</tspan></text>
</g>

<g id="tab-einsatzraten">
<rect x="1017" y="325" width="180" height="239.2" fill="#fde6e6"/>
<rect x="1017" y="325" width="96" height="239.2" fill="#fbdfe0"/>
<rect x="1113" y="351" width="84" height="213.2" fill="url(#lR)"/>
<rect x="1017" y="351" width="96" height="213.2" fill="url(#dR)"/>
<path class="lt" style="stroke:#c9bcc4" d="M1143,325V564.2M1168,325V564.2M1113,333.7H1197M1113,342.3H1197"/>
<path class="dk" d="M1017,325H1197V564.2H1017ZM1088,325V564.2M1113,325V564.2M1017,333.7H1113M1017,342.3H1113M1017,351H1113"/>
<path class="bar" d="M1143,342V351M1168,342V351M1196.5,325V351"/>
<text class="hd" x="1114.5" y="331.5">05166</text>
<text class="hd" x="1114" y="348.5">männlich</text>
<text class="hd" x="1144.5" y="348.5">weiblich</text>
<text class="hd" x="1169.3" y="348.5">Insgesamt</text>
<text class="lb" y="357"><tspan x="1052.5">Insgesamt</tspan><tspan x="1052.5" dy="8.2">unter 1 Jahr</tspan><tspan x="1052.5" dy="8.2">1 bis unter 2 Jahre</tspan><tspan x="1052.5" dy="8.2">2 bis unter 3 Jahre</tspan><tspan x="1052.5" dy="8.2">3 bis unter 4 Jahre</tspan><tspan x="1052.5" dy="8.2">4 bis unter 5 Jahre</tspan><tspan x="1052.5" dy="8.2">5 bis unter 6 Jahre</tspan><tspan x="1052.5" dy="8.2">6 bis unter 7 Jahre</tspan><tspan x="1052.5" dy="8.2">7 bis unter 8 Jahre</tspan><tspan x="1052.5" dy="8.2">8 bis unter 9 Jahre</tspan><tspan x="1052.5" dy="8.2">9 bis unter 10 Jahre</tspan><tspan x="1052.5" dy="8.2">10 bis unter 11 Jahre</tspan><tspan x="1052.5" dy="8.2">11 bis unter 12 Jahre</tspan><tspan x="1052.5" dy="8.2">12 bis unter 13 Jahre</tspan><tspan x="1052.5" dy="8.2">13 bis unter 14 Jahre</tspan><tspan x="1052.5" dy="8.2">14 bis unter 15 Jahre</tspan><tspan x="1052.5" dy="8.2">15 bis unter 16 Jahre</tspan><tspan x="1052.5" dy="8.2">16 bis unter 17 Jahre</tspan><tspan x="1052.5" dy="8.2">17 bis unter 18 Jahre</tspan><tspan x="1052.5" dy="8.2">18 bis unter 19 Jahre</tspan><tspan x="1052.5" dy="8.2">19 bis unter 20 Jahre</tspan><tspan x="1052.5" dy="8.2">20 bis unter 21 Jahre</tspan><tspan x="1052.5" dy="8.2">21 bis unter 22 Jahre</tspan><tspan x="1052.5" dy="8.2">22 bis unter 23 Jahre</tspan><tspan x="1052.5" dy="8.2">23 bis unter 24 Jahre</tspan><tspan x="1052.5" dy="8.2">24 bis unter 25 Jahre</tspan></text>
<text class="lb" y="357"><tspan x="1100.5">Rate</tspan><tspan x="1100.5" dy="8.2">Rate</tspan><tspan x="1100.5" dy="8.2">Rate</tspan><tspan x="1100.5" dy="8.2">Rate</tspan><tspan x="1100.5" dy="8.2">Rate</tspan><tspan x="1100.5" dy="8.2">Rate</tspan><tspan x="1100.5" dy="8.2">Rate</tspan><tspan x="1100.5" dy="8.2">Rate</tspan><tspan x="1100.5" dy="8.2">Rate</tspan><tspan x="1100.5" dy="8.2">Rate</tspan><tspan x="1100.5" dy="8.2">Rate</tspan><tspan x="1100.5" dy="8.2">Rate</tspan><tspan x="1100.5" dy="8.2">Rate</tspan><tspan x="1100.5" dy="8.2">Rate</tspan><tspan x="1100.5" dy="8.2">Rate</tspan><tspan x="1100.5" dy="8.2">Rate</tspan><tspan x="1100.5" dy="8.2">Rate</tspan><tspan x="1100.5" dy="8.2">Rate</tspan><tspan x="1100.5" dy="8.2">Rate</tspan><tspan x="1100.5" dy="8.2">Rate</tspan><tspan x="1100.5" dy="8.2">Rate</tspan><tspan x="1100.5" dy="8.2">Rate</tspan><tspan x="1100.5" dy="8.2">Rate</tspan><tspan x="1100.5" dy="8.2">Rate</tspan><tspan x="1100.5" dy="8.2">Rate</tspan><tspan x="1100.5" dy="8.2">Rate</tspan></text>
<text class="nm" y="357"><tspan x="1142.4">1</tspan><tspan x="1142.4" dy="8.2">8,0425</tspan><tspan x="1142.4" dy="8.2">8,2481</tspan><tspan x="1142.4" dy="8.2">8,3725</tspan><tspan x="1142.4" dy="8.2">8,1941</tspan><tspan x="1142.4" dy="8.2">8,1596</tspan><tspan x="1142.4" dy="8.2">8,7301</tspan><tspan x="1142.4" dy="8.2">8,4897</tspan><tspan x="1142.4" dy="8.2">9,1355</tspan><tspan x="1142.4" dy="8.2">8,7921</tspan><tspan x="1142.4" dy="8.2">9,1485</tspan><tspan x="1142.4" dy="8.2">9,2304</tspan><tspan x="1142.4" dy="8.2">9,6996</tspan><tspan x="1142.4" dy="8.2">9,6535</tspan><tspan x="1142.4" dy="8.2">10,7170</tspan><tspan x="1142.4" dy="8.2">10,2986</tspan><tspan x="1142.4" dy="8.2">11,1703</tspan><tspan x="1142.4" dy="8.2">11,1088</tspan><tspan x="1142.4" dy="8.2">12,5248</tspan><tspan x="1142.4" dy="8.2">12,9074</tspan><tspan x="1142.4" dy="8.2">12,2637</tspan><tspan x="1142.4" dy="8.2">11,6931</tspan><tspan x="1142.4" dy="8.2">11,6244</tspan><tspan x="1142.4" dy="8.2">11,8581</tspan><tspan x="1142.4" dy="8.2">11,8513</tspan><tspan x="1142.4" dy="8.2">11,0481</tspan></text>
<text class="nm" y="357"><tspan x="1167.4">1</tspan><tspan x="1167.4" dy="8.2">7,7333</tspan><tspan x="1167.4" dy="8.2">7,8257</tspan><tspan x="1167.4" dy="8.2">7,1292</tspan><tspan x="1167.4" dy="8.2">7,6746</tspan><tspan x="1167.4" dy="8.2">7,5826</tspan><tspan x="1167.4" dy="8.2">7,8520</tspan><tspan x="1167.4" dy="8.2">8,1473</tspan><tspan x="1167.4" dy="8.2">8,1542</tspan><tspan x="1167.4" dy="8.2">8,4495</tspan><tspan x="1167.4" dy="8.2">8,4694</tspan><tspan x="1167.4" dy="8.2">8,4631</tspan><tspan x="1167.4" dy="8.2">8,6141</tspan><tspan x="1167.4" dy="8.2">9,6263</tspan><tspan x="1167.4" dy="8.2">9,4765</tspan><tspan x="1167.4" dy="8.2">10,4014</tspan><tspan x="1167.4" dy="8.2">10,4480</tspan><tspan x="1167.4" dy="8.2">10,5854</tspan><tspan x="1167.4" dy="8.2">10,8675</tspan><tspan x="1167.4" dy="8.2">10,8035</tspan><tspan x="1167.4" dy="8.2">10,7562</tspan><tspan x="1167.4" dy="8.2">9,6560</tspan><tspan x="1167.4" dy="8.2">9,7048</tspan><tspan x="1167.4" dy="8.2">9,8202</tspan><tspan x="1167.4" dy="8.2">9,3829</tspan><tspan x="1167.4" dy="8.2">9,5604</tspan></text>
<text class="nm" y="357"><tspan x="1196">1</tspan><tspan x="1196" dy="8.2">7,8848</tspan><tspan x="1196" dy="8.2">8,0336</tspan><tspan x="1196" dy="8.2">7,7370</tspan><tspan x="1196" dy="8.2">7,9269</tspan><tspan x="1196" dy="8.2">7,8642</tspan><tspan x="1196" dy="8.2">8,3013</tspan><tspan x="1196" dy="8.2">8,3146</tspan><tspan x="1196" dy="8.2">8,6340</tspan><tspan x="1196" dy="8.2">8,6172</tspan><tspan x="1196" dy="8.2">8,7988</tspan><tspan x="1196" dy="8.2">8,8721</tspan><tspan x="1196" dy="8.2">9,1466</tspan><tspan x="1196" dy="8.2">9,6389</tspan><tspan x="1196" dy="8.2">10,0839</tspan><tspan x="1196" dy="8.2">10,3471</tspan><tspan x="1196" dy="8.2">10,7675</tspan><tspan x="1196" dy="8.2">10,8413</tspan><tspan x="1196" dy="8.2">11,6774</tspan><tspan x="1196" dy="8.2">11,7052</tspan><tspan x="1196" dy="8.2">11,4925</tspan><tspan x="1196" dy="8.2">10,7536</tspan><tspan x="1196" dy="8.2">10,6430</tspan><tspan x="1196" dy="8.2">10,8130</tspan><tspan x="1196" dy="8.2">10,5898</tspan><tspan x="1196" dy="8.2">10,2839</tspan></text>
</g>

<g id="connectors">
<polygon class="arr" points="228,405 292,405 292,388 330,415 292,442 292,425 228,425 254,415"/>
<polygon class="arr" points="516,519.5 568,519.5 568,505 606,529 568,553 568,538.5 516,538.5 538,529"/>
<path d="M607,531H850" stroke="#000" stroke-width="3.2" fill="none"/>
<path d="M806,119C842,117 870,128 870,165L870,500C870,520 880,528 902,535C880,542 870,550 870,570L870,912C870,945 842,956 806,954" stroke="#000" stroke-width="2.4" fill="none"/>
<path d="M870,505C871,521 881,528 902,535C881,542 871,549 870,565" stroke="#000" stroke-width="3.6" fill="none"/>
<rect x="902" y="533.5" width="8" height="3" fill="#fff" stroke="#000" stroke-width="0.8"/>
</g>

<g id="text-umrechnung">
<text class="ex" x="279" y="466">Umrechung</text>
<text class="ex" x="279" y="485.5">absolute</text>
<text class="ex" x="279" y="505">Werte</text>
<text class="ex" x="279" y="524.5">auf</text>
<text class="ex" x="279" y="544">Prozent-</text>
<text class="ex" x="279" y="563.5">werte</text>
</g>
<g id="text-division">
<text class="dv" x="955" y="483">Division</text>
<text class="dv" x="955" y="502">Einsatzfahrten</text>
<text class="dv" x="914" y="541" style="text-anchor:start">durch</text>
<text class="dv" x="952" y="581">Bevölkerung</text>
<text class="dv" x="952" y="600">pro 1.000</text>
<text class="dv" x="952" y="619">Einwohner</text>
<text class="dv" x="952" y="638">und Jahr</text>
</g>
<g id="text-grundlage">
<text class="big" x="1108" y="795">bildet die</text>
<text class="big" x="1108" y="822">Grundlage</text>
<text class="big" x="1108" y="849">für die</text>
<text class="big" x="1108" y="876">Prognose</text>
</g>
<g id="footer">
<text class="ft" x="18" y="1001" xml:space="preserve">©G916  Prognosemodell</text>
<text class="ft" x="1201" y="1001" style="text-anchor:end">© FORPLAN DR. SCHMIEDEL 2017</text>
</g>
</svg>
